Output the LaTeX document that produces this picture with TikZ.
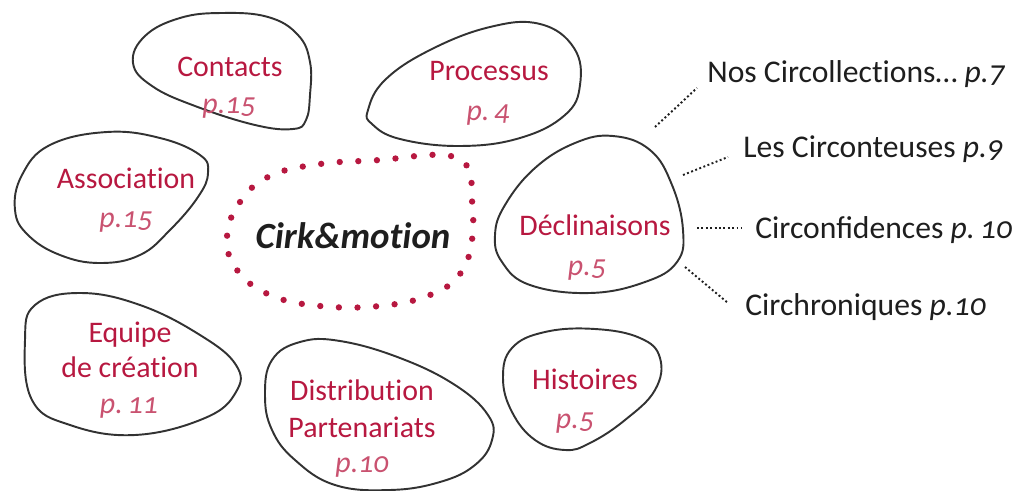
\documentclass[tikz,border=0pt]{standalone}
\usepackage{fontspec}
\setmainfont{Carlito}
\newfontfamily\pagefont{Carlito}[Numbers=OldStyle]
\usepackage{tikz}
\usetikzlibrary{positioning}

\definecolor{cirkred}{RGB}{183,24,64}
\definecolor{outline}{RGB}{50,50,50}
\definecolor{inktext}{RGB}{30,30,30}
\newcommand{\nolig}{\kern0pt}

\begin{document}
\begin{tikzpicture}[x=0.02cm,y=-0.02cm,
  blob/.style={draw=outline,line width=1.1pt},
  ring/.style={draw=cirkred,line width=3.6pt,line cap=round,dash pattern=on 0pt off 10.6pt},
  title/.style={text=cirkred,font=\fontsize{17}{20}\selectfont,inner sep=0pt,anchor=base},
  page/.style={text=cirkred!75,font=\fontsize{17}{20}\selectfont\pagefont\itshape,inner sep=0pt,anchor=base},
  item/.style={text=inktext,font=\fontsize{18}{21}\selectfont,inner sep=0pt,anchor=base west},
  leader/.style={draw=inktext,line width=1.1pt,dash pattern=on 1.1pt off 1.4pt}]
\useasboundingbox (0,0) rectangle (1020,490);

% blobs
\draw[blob] plot[smooth cycle,tension=0.7] coordinates {(133,63) (145,36) (180,18) (222,13) (268,17) (298,35) (310,62) (310,95) (306,120) (293,129) (255,125) (195,106) (152,86)};
\draw[blob] plot[smooth cycle,tension=0.7] coordinates {(368,110) (385,80) (430,50) (490,27) (540,24) (574,48) (580,85) (565,115) (520,138) (460,146) (400,139) (372,124)};
\draw[blob] plot[smooth cycle,tension=0.7] coordinates {(15,210) (22,175) (50,145) (107,132) (160,138) (200,155) (208,173) (198,197) (170,230) (140,255) (100,263) (60,255) (28,235)};
\draw[blob] plot[smooth cycle,tension=0.7] coordinates {(495,235) (505,205) (535,168) (575,143) (613,136) (650,150) (672,185) (683,230) (677,262) (645,282) (590,293) (530,285) (502,262)};
\draw[blob] plot[smooth cycle,tension=0.7] coordinates {(25,340) (35,305) (80,293) (140,305) (200,335) (236,365) (236,392) (205,418) (135,435) (70,425) (32,400)};
\draw[blob] plot[smooth cycle,tension=0.7] coordinates {(265,395) (272,360) (300,342) (340,341) (400,358) (455,385) (488,415) (492,440) (475,465) (440,482) (390,490) (335,485) (295,460) (272,430)};
\draw[blob] plot[smooth cycle,tension=0.7] coordinates {(503,378) (512,348) (545,332) (595,329) (640,338) (660,358) (655,390) (625,420) (590,443) (565,450) (535,440) (512,412)};

% centre
\draw[ring] plot[smooth cycle,tension=0.7] coordinates {(227,237) (240,202) (270,176) (320,164) (380,160) (440,155) (467,166) (472,200) (472,240) (460,274) (430,295) (380,306) (320,306) (270,295) (237,270)};
\node[inner sep=0pt,anchor=base,text=inktext,font=\fontsize{21}{24}\selectfont\bfseries\itshape] (cirk) at (353,248) {Cirk\&mot\nolig ion};

% labels
\node[title] (contacts) at (230,76) {Contacts};
\node[page] (contactsp) at (229,113) {p.15};
\node[title] (processus) at (489,80) {Processus};
\node[page] (processusp) at (488,120) {p.\,4};
\node[title] (association) at (126,188) {Associat\nolig ion};
\node[page] (associationp) at (126,227) {p.15};
\node[title] (decl) at (595,235) {Déclinaisons};
\node[page] (declp) at (587,275) {p.5};
\node[title] (equipe) at (130,342) {Equipe};
\node[title] (creation) at (130,377) {de créat\nolig ion};
\node[page] (equipep) at (129,413) {p.\,11};
\node[title] (distrib) at (362,400) {Distribut\nolig ion};
\node[title] (parten) at (362,437) {Partenariat\nolig s};
\node[page] (distribp) at (362,472) {p.10};
\node[title] (histoires) at (585,389) {Histoires};
\node[page] (histoiresp) at (575,428) {p.5};

% declinaisons
\node[item] (nos) at (707,82) {Nos Circollect\nolig ions\dots\ {\pagefont\itshape p.7}};
\node[item] (conteuses) at (743,157) {Les Circonteuses {\pagefont\itshape p.9}};
\node[item] (confid) at (755,238) {Circonfidences {\pagefont\itshape p.\,10}};
\node[item] (chron) at (745,315) {Circhroniques {\pagefont\itshape p.10}};

\coordinate (nosA) at (655,127);
\coordinate (nosB) at (697,88);
\coordinate (conteusesA) at (683,175);
\coordinate (conteusesB) at (728,157);
\coordinate (confidA) at (697,228);
\coordinate (confidB) at (741,228);
\coordinate (chronA) at (685,267);
\coordinate (chronB) at (728,303);
\draw[leader] (nosA) -- (nosB);
\draw[leader] (conteusesA) -- (conteusesB);
\draw[leader] (confidA) -- (confidB);
\draw[leader] (chronA) -- (chronB);
\end{tikzpicture}
\end{document}
